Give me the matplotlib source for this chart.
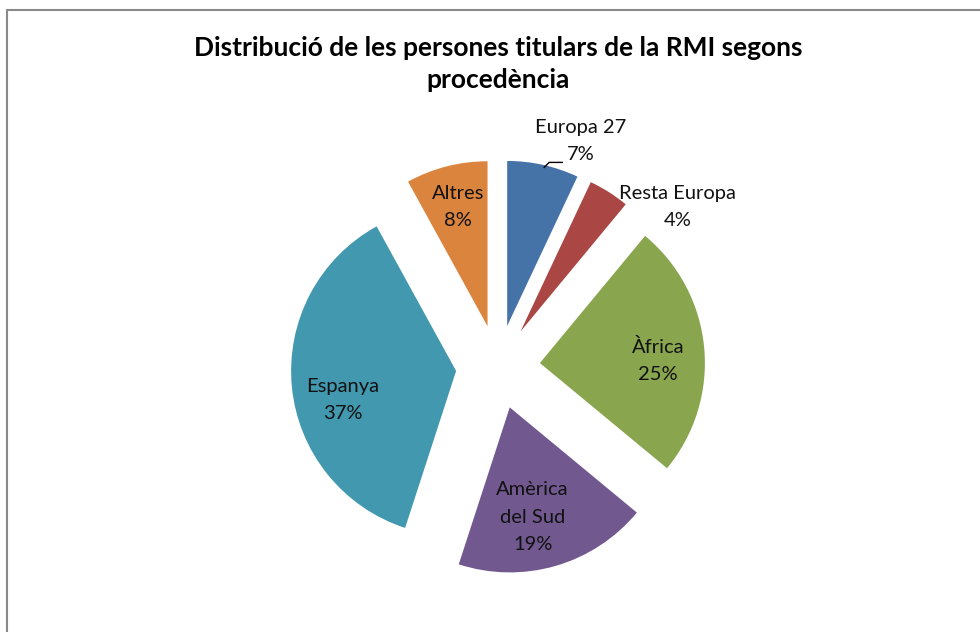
import matplotlib.pyplot as plt
from matplotlib.patches import Rectangle

# data
regions = ["Europa 27", "Resta Europa", "Àfrica", "Amèrica\ndel Sud", "Espanya", "Altres"]
shares = [7, 4, 25, 19, 37, 8]
colors = ["#4572A7", "#AA4643", "#89A54E", "#71588F", "#4198AF", "#DB843D"]

# label positions in data units (pie radius = 1)
label_pos = [(0.50, 1.37), (1.09, 0.97), (0.97, 0.04), (0.21, -0.91), (-0.94, -0.20), (-0.24, 0.97)]

plt.rcParams['font.family'] = ['Lato', 'DejaVu Sans']

fig = plt.figure(figsize=(9.8, 6.32), dpi=100)

# chart frame (cut off at right and bottom like the reference)
fig.patches.append(Rectangle((7 / 980, -0.1), 1.1, 1 - 10 / 632 + 0.1,
                             transform=fig.transFigure, fill=False,
                             edgecolor="#8a8a8a", linewidth=1.5))

# axes: 1 data unit = 165 px, centred at (498, 367) px
half = 2.0
size = 2 * half * 165
ax = fig.add_axes([(498 - size / 2) / 980, (632 - 367 - size / 2) / 632,
                   size / 980, size / 632])
ax.pie(shares, colors=colors, startangle=90, counterclock=False,
       explode=[0.255] * len(shares), radius=1.0,
       wedgeprops=dict(linewidth=0))
ax.set_xlim(-half, half)
ax.set_ylim(-half, half)
ax.set_aspect('equal')
ax.axis('off')

for name, val, (x, y) in zip(regions, shares, label_pos):
    ax.text(x, y, f"{name}\n{val}%", ha='center', va='center',
            fontsize=14.5, linespacing=1.75, color="#111111")

# leader line for Europa 27
ax.plot([0.28, 0.31, 0.39], [1.21, 1.24, 1.24], color="black", linewidth=1)

fig.text(498 / 980, 1 - 64 / 632,
         "Distribució de les persones titulars de la RMI segons\nprocedència",
         ha='center', va='center', fontsize=19, fontweight='bold',
         linespacing=1.35)

fig.savefig("out.png", dpi=100)
